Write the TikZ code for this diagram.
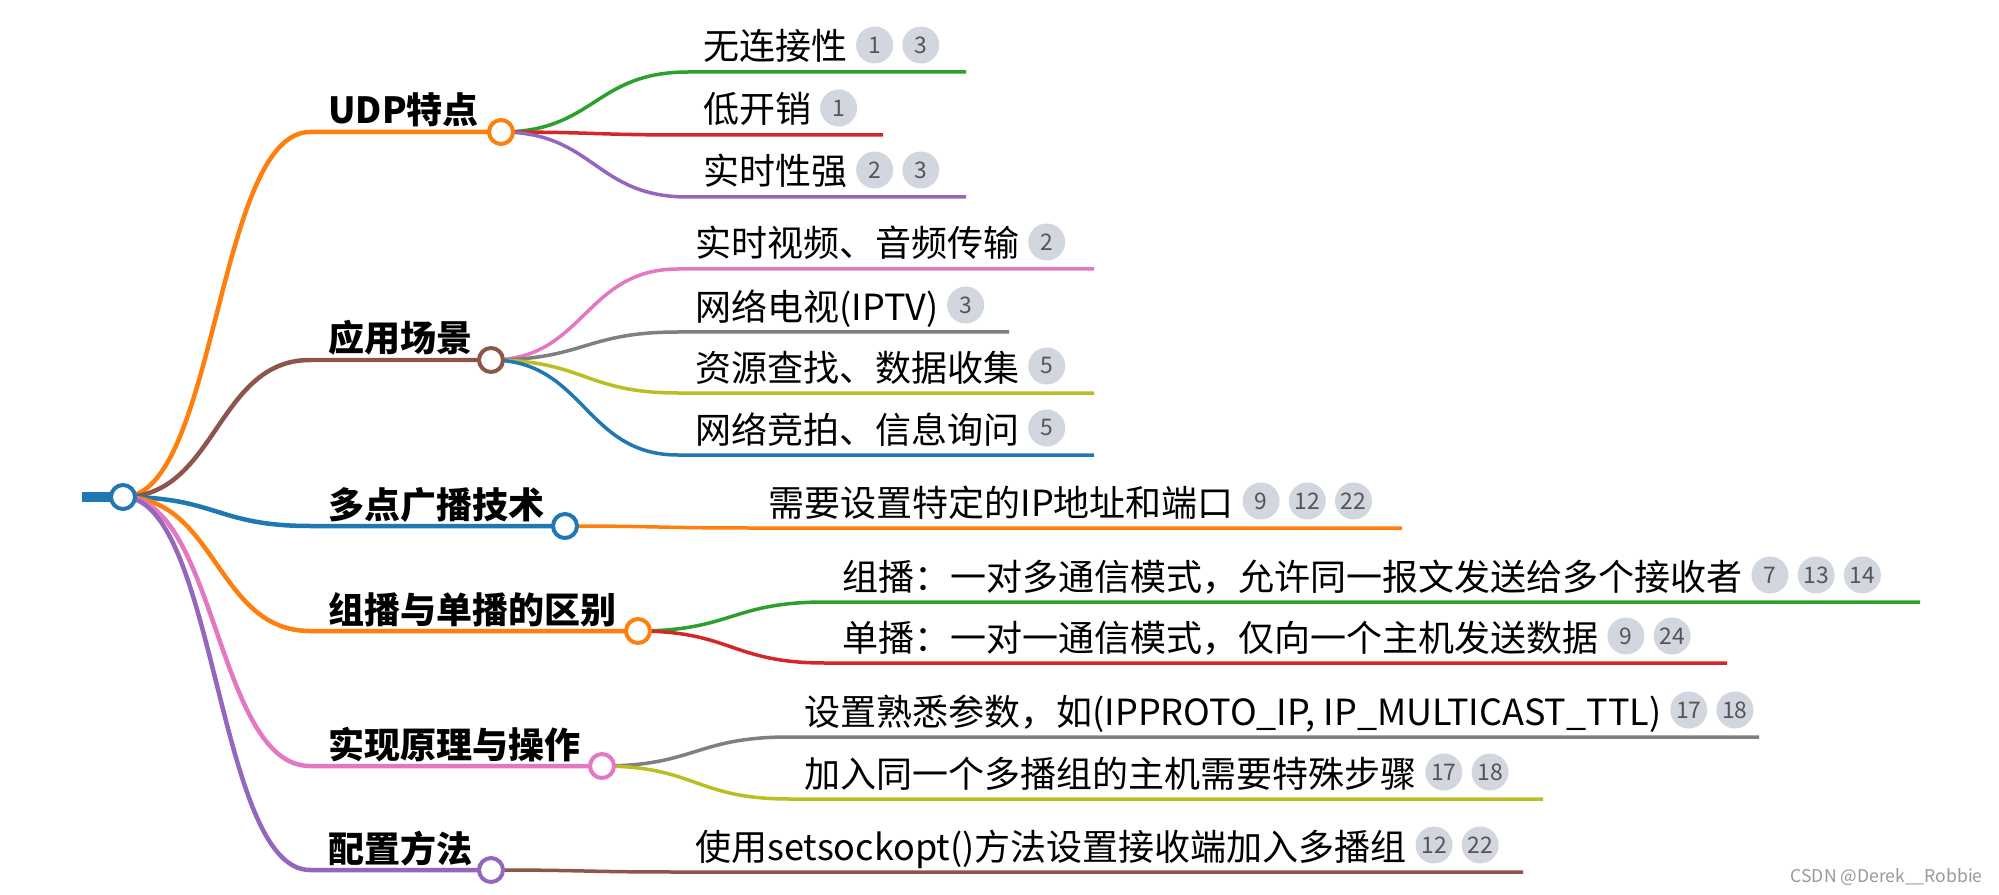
\documentclass[tikz,border=0pt]{standalone}
\usepackage{fontspec}
\setmainfont{Noto Sans CJK SC}
\usetikzlibrary{positioning,backgrounds}

\definecolor{cBlue}{HTML}{1F77B4}
\definecolor{cOrange}{HTML}{FF7F0E}
\definecolor{cGreen}{HTML}{2CA02C}
\definecolor{cRed}{HTML}{D62728}
\definecolor{cPurple}{HTML}{9467BD}
\definecolor{cBrown}{HTML}{8C564B}
\definecolor{cPink}{HTML}{E377C2}
\definecolor{cGray}{HTML}{7F7F7F}
\definecolor{cOlive}{HTML}{BCBD22}
\definecolor{badgefill}{RGB}{210,214,222}
\definecolor{badgetext}{RGB}{85,85,85}

\begin{document}
\begin{tikzpicture}[
    x=0.02cm, y=-0.02cm,
    hub/.style={circle, draw, fill=white, line width=0.08cm, minimum size=0.48cm, inner sep=0pt},
    topic/.style={anchor=base west, inner sep=0pt, font=\bfseries\fontsize{20.5}{24}\selectfont},
    leaf/.style={anchor=base west, inner sep=0pt, text height=0.72cm, text depth=0.12cm, font=\fontsize{20.5}{24}\selectfont},
    badge/.style={circle, fill=badgefill, text=badgetext, minimum size=0.74cm, inner sep=0pt, font=\fontsize{13}{13}\selectfont},
    lvl1/.style={line width=0.09cm},
    lvl2/.style={line width=0.07cm}
]
    \useasboundingbox (0,0) rectangle (1999,895);

    % root
    \coordinate (stub) at (82,497);
    \node[hub, draw=cBlue] (root) at (123,497) {};

    % first level
    \coordinate (k1) at (310,132);
    \coordinate (k2) at (310,360);
    \coordinate (k3) at (310,526);
    \coordinate (k4) at (310,631);
    \coordinate (k5) at (310,766);
    \coordinate (k6) at (310,870);
    \node[topic] (l1) at (328,124) {UDP特点};
    \node[topic] (l2) at (328,352) {应用场景};
    \node[topic] (l3) at (328,518) {多点广播技术};
    \node[topic] (l4) at (328,623) {组播与单播的区别};
    \node[topic] (l5) at (328,758) {实现原理与操作};
    \node[topic] (l6) at (328,862) {配置方法};
    \node[hub, draw=cOrange] (h1) at (501,132) {};
    \node[hub, draw=cBrown]  (h2) at (491,360) {};
    \node[hub, draw=cBlue]   (h3) at (565,526) {};
    \node[hub, draw=cOrange] (h4) at (638,631) {};
    \node[hub, draw=cPink]   (h5) at (602,766) {};
    \node[hub, draw=cPurple] (h6) at (491,870) {};

    % UDP特点
    \node[leaf] (t11) at (703,60) {无连接性};
    \node[badge, right=0.16cm of t11] (b11a) {1};
    \node[badge, right=0.17cm of b11a] (b11b) {3};
    \node[leaf] (t12) at (703,123) {低开销};
    \node[badge, right=0.16cm of t12] (b12a) {1};
    \node[leaf] (t13) at (703,185) {实时性强};
    \node[badge, right=0.16cm of t13] (b13a) {2};
    \node[badge, right=0.17cm of b13a] (b13b) {3};

    % 应用场景
    \node[leaf] (t21) at (695,257) {实时视频、音频传输};
    \node[badge, right=0.16cm of t21] (b21a) {2};
    \node[leaf] (t22) at (695,320) {网络电视(IPTV)};
    \node[badge, right=0.16cm of t22] (b22a) {3};
    \node[leaf] (t23) at (695,381) {资源查找、数据收集};
    \node[badge, right=0.16cm of t23] (b23a) {5};
    \node[leaf] (t24) at (695,443) {网络竞拍、信息询问};
    \node[badge, right=0.16cm of t24] (b24a) {5};

    % 多点广播技术
    \node[leaf] (t31) at (768,516) {需要设置特定的IP地址和端口};
    \node[badge, right=0.16cm of t31] (b31a) {9};
    \node[badge, right=0.17cm of b31a] (b31b) {12};
    \node[badge, right=0.17cm of b31b] (b31c) {22};

    % 组播与单播的区别
    \node[leaf] (t41) at (842,590) {组播：一对多通信模式，允许同一报文发送给多个接收者};
    \node[badge, right=0.16cm of t41] (b41a) {7};
    \node[badge, right=0.17cm of b41a] (b41b) {13};
    \node[badge, right=0.17cm of b41b] (b41c) {14};
    \node[leaf] (t42) at (842,651) {单播：一对一通信模式，仅向一个主机发送数据};
    \node[badge, right=0.16cm of t42] (b42a) {9};
    \node[badge, right=0.17cm of b42a] (b42b) {24};

    % 实现原理与操作
    \node[leaf] (t51) at (804,725) {设置熟悉参数，如(IPPROTO\_IP, IP\_MULTICAST\_TTL)};
    \node[badge, right=0.16cm of t51] (b51a) {17};
    \node[badge, right=0.17cm of b51a] (b51b) {18};
    \node[leaf] (t52) at (804,787) {加入同一个多播组的主机需要特殊步骤};
    \node[badge, right=0.16cm of t52] (b52a) {17};
    \node[badge, right=0.17cm of b52a] (b52b) {18};

    % 配置方法
    \node[leaf] (t61) at (695,860) {使用setsockopt()方法设置接收端加入多播组};
    \node[badge, right=0.16cm of t61] (b61a) {12};
    \node[badge, right=0.17cm of b61a] (b61b) {22};

    % link ends
    \coordinate (k11) at (688,72);   \coordinate (e11) at (966,72);
    \coordinate (k12) at (688,135);  \coordinate (e12) at (883,135);
    \coordinate (k13) at (688,197);  \coordinate (e13) at (966,197);
    \coordinate (k21) at (678,269);  \coordinate (e21) at (1094,269);
    \coordinate (k22) at (678,332);  \coordinate (e22) at (1009,332);
    \coordinate (k23) at (678,393);  \coordinate (e23) at (1094,393);
    \coordinate (k24) at (678,455);  \coordinate (e24) at (1094,455);
    \coordinate (k31) at (752,528);  \coordinate (e31) at (1402,528);
    \coordinate (k41) at (825,602);  \coordinate (e41) at (1920,602);
    \coordinate (k42) at (825,663);  \coordinate (e42) at (1727,663);
    \coordinate (k51) at (789,737);  \coordinate (e51) at (1759,737);
    \coordinate (k52) at (789,799);  \coordinate (e52) at (1543,799);
    \coordinate (k61) at (678,872);  \coordinate (e61) at (1523,872);

    \begin{scope}[on background layer]
    \fill[white] (0,0) rectangle (1999,895);
    \draw[line width=0.2cm, cBlue] (stub) -- (root.center);

    \draw[lvl1, cOrange] (root.center) .. controls +(93.5,0) and +(-93.5,0) .. (k1) -- (h1.center);
    \draw[lvl1, cBrown]  (root.center) .. controls +(93.5,0) and +(-93.5,0) .. (k2) -- (h2.center);
    \draw[lvl1, cBlue]   (root.center) .. controls +(93.5,0) and +(-93.5,0) .. (k3) -- (h3.center);
    \draw[lvl1, cOrange] (root.center) .. controls +(93.5,0) and +(-93.5,0) .. (k4) -- (h4.center);
    \draw[lvl1, cPink]   (root.center) .. controls +(93.5,0) and +(-93.5,0) .. (k5) -- (h5.center);
    \draw[lvl1, cPurple] (root.center) .. controls +(93.5,0) and +(-93.5,0) .. (k6) -- (h6.center);

    \draw[lvl2, cGreen]  (h1.center) .. controls +(93.5,0) and +(-93.5,0) .. (k11) -- (e11);
    \draw[lvl2, cRed]    (h1.center) .. controls +(93.5,0) and +(-93.5,0) .. (k12) -- (e12);
    \draw[lvl2, cPurple] (h1.center) .. controls +(93.5,0) and +(-93.5,0) .. (k13) -- (e13);
    \draw[lvl2, cPink]   (h2.center) .. controls +(93.5,0) and +(-93.5,0) .. (k21) -- (e21);
    \draw[lvl2, cGray]   (h2.center) .. controls +(93.5,0) and +(-93.5,0) .. (k22) -- (e22);
    \draw[lvl2, cOlive]  (h2.center) .. controls +(93.5,0) and +(-93.5,0) .. (k23) -- (e23);
    \draw[lvl2, cBlue]   (h2.center) .. controls +(93.5,0) and +(-93.5,0) .. (k24) -- (e24);
    \draw[lvl2, cOrange] (h3.center) .. controls +(93.5,0) and +(-93.5,0) .. (k31) -- (e31);
    \draw[lvl2, cGreen]  (h4.center) .. controls +(93.5,0) and +(-93.5,0) .. (k41) -- (e41);
    \draw[lvl2, cRed]    (h4.center) .. controls +(93.5,0) and +(-93.5,0) .. (k42) -- (e42);
    \draw[lvl2, cGray]   (h5.center) .. controls +(93.5,0) and +(-93.5,0) .. (k51) -- (e51);
    \draw[lvl2, cOlive]  (h5.center) .. controls +(93.5,0) and +(-93.5,0) .. (k52) -- (e52);
    \draw[lvl2, cBrown]  (h6.center) .. controls +(93.5,0) and +(-93.5,0) .. (k61) -- (e61);
    \end{scope}

    \node[anchor=east, inner sep=0pt, text=black!40, font=\fontsize{10}{12}\selectfont] (mark) at (1983,877) {CSDN @Derek\_\_Robbie};
\end{tikzpicture}
\end{document}
